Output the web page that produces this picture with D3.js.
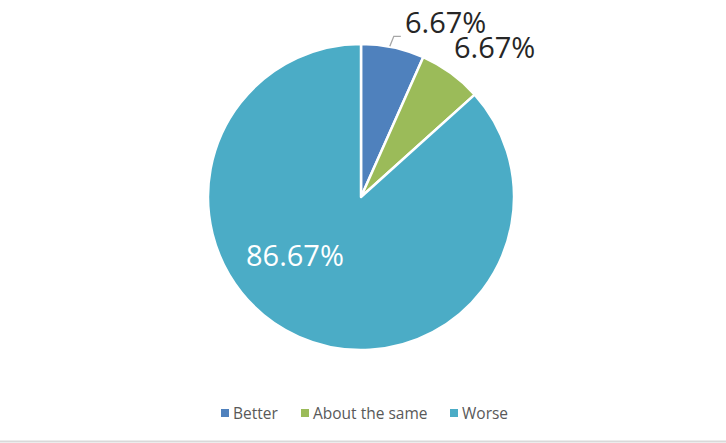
<!DOCTYPE html>
<html><head><meta charset="utf-8">
<script src="https://cdn.jsdelivr.net/npm/d3@7"></script>
<style>body{margin:0;background:#fff;}svg{display:block;}</style>
</head><body>
<svg id="c" width="726" height="443"></svg>
<script>
const categories = ["Better", "About the same", "Worse"];
const values = [1, 1, 13];
const labels = ["6.67%", "6.67%", "86.67%"];
const colors = ["#4F81BD", "#9BBB59", "#4BACC6"];

const svg = d3.select("#c");
const W = 726, H = 443;
const cx = 361, cy = 197, r = 153;
const font = "'Open Sans', 'Noto Sans', sans-serif";

svg.append("rect").attr("x",0).attr("y",0).attr("width",W).attr("height",H).attr("fill","#fff");
svg.append("line").attr("x1",0).attr("x2",W).attr("y1",441.5).attr("y2",441.5).attr("stroke","#d9d9d9").attr("stroke-width",2);

const pie = d3.pie().sort(null).value(d => d)(values);
const arc = d3.arc().innerRadius(0).outerRadius(r);
const g = svg.append("g").attr("transform", `translate(${cx},${cy})`);
g.selectAll("path").data(pie).join("path")
  .attr("d", arc).attr("fill", (d,i) => colors[i])
  .attr("stroke", "#fff").attr("stroke-width", 2.5).attr("stroke-linejoin","round");

// leader line for first label
const a0 = (pie[0].startAngle + pie[0].endAngle)/2;
const px = cx + Math.sin(a0)*r, py = cy - Math.cos(a0)*r;
svg.append("polyline")
  .attr("points", `${px-3},${py-1} ${px+1},${py-11} ${px+8},${py-11}`)
  .attr("fill","none").attr("stroke","#a6a6a6").attr("stroke-width",1.3);

const labelPos = [[405, 33], [454, 58], [246, 266]];
const labelCol = ["#262626", "#262626", "#ffffff"];
svg.selectAll("text.lbl").data(labels).join("text").attr("class","lbl")
  .attr("x", (d,i) => labelPos[i][0]).attr("y", (d,i) => labelPos[i][1])
  .attr("fill", (d,i) => labelCol[i])
  .attr("font-family", font).attr("font-size", 29)
  .text(d => d);

// legend
const legX = [221, 301, 450];
const lg = svg.append("g");
categories.forEach((c,i) => {
  lg.append("rect").attr("x", legX[i]).attr("y", 409).attr("width", 8).attr("height", 8).attr("fill", colors[i]);
  lg.append("text").attr("x", legX[i]+12).attr("y", 418.5).attr("fill","#595959")
    .attr("font-family", font).attr("font-size", 15.5).text(c);
});
</script>
</body></html>
